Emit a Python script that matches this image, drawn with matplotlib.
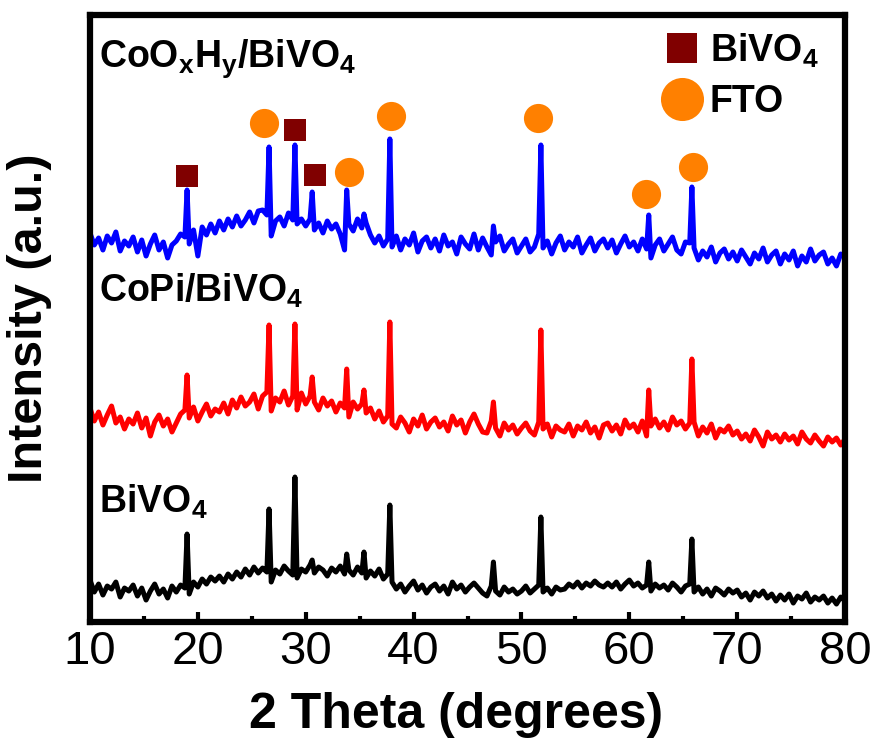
import numpy as np
import matplotlib
matplotlib.use('Agg')
import matplotlib.pyplot as plt
from matplotlib.lines import Line2D
from matplotlib.ticker import MultipleLocator

plt.rcParams['font.family'] = ['Liberation Sans', 'DejaVu Sans']
plt.rcParams['mathtext.fontset'] = 'custom'
plt.rcParams['mathtext.rm'] = 'Liberation Sans'
plt.rcParams['mathtext.bf'] = 'Liberation Sans:bold'
plt.rcParams['mathtext.default'] = 'bf'

# -------------------------------------------------
# data (intensity in arbitrary units, curves already offset)
# -------------------------------------------------
two_theta = np.round(np.arange(10.0, 80.01, 0.4), 1)

blue_base = [
    389, 377, 384, 372, 386, 379, 390, 371, 381, 376,
    385, 370, 382, 366, 378, 387, 372, 380, 364, 377,
    381, 388, 385, 378, 392, 366, 395, 387, 398, 389,
    401, 392, 403, 395, 406, 396, 402, 410, 399, 411,
    412, 407, 386, 401, 405, 396, 409, 402, 398, 403,
    396, 403, 392, 399, 389, 401, 393, 398, 388, 372,
    398, 391, 403, 394, 399, 387, 379, 386, 376, 383,
    375, 386, 372, 383, 377, 389, 370, 381, 385, 374,
    383, 371, 387, 376, 380, 368, 385, 378, 373, 388,
    372, 384, 375, 367, 380, 386, 371, 378, 383, 369,
    376, 383, 370, 375, 388, 374, 381, 368, 379, 386,
    372, 380, 375, 385, 369, 377, 384, 371, 379, 383,
    374, 382, 369, 378, 386, 375, 380, 371, 383, 373,
    364, 377, 383, 371, 378, 385, 372, 368, 380, 379,
    374, 362, 371, 365, 375, 360, 369, 373, 363, 370,
    361, 372, 365, 358, 369, 363, 374, 360, 367, 371,
    358, 368, 362, 371, 356, 366, 360, 373, 361, 367,
    370, 358, 364, 356, 368, 365,
]

red_base = [
    214, 201, 210, 197, 207, 216, 199, 205, 193, 203,
    198, 209, 194, 204, 186, 200, 207, 196, 203, 190,
    199, 208, 212, 204, 215, 201, 210, 218, 206, 213,
    210, 219, 208, 222, 214, 225, 216, 220, 228, 213,
    226, 230, 211, 224, 220, 231, 217, 226, 212, 229,
    218, 226, 220, 212, 224, 216, 221, 210, 219, 214,
    205, 220, 213, 218, 209, 214, 203, 211, 200, 206,
    198, 194, 205, 199, 190, 203, 196, 207, 193, 200,
    204, 195, 200, 191, 206, 197, 202, 189, 200, 208,
    198, 190, 189, 201, 194, 186, 199, 192, 197, 188,
    194, 199, 191, 187, 200, 193, 198, 185, 196, 192,
    190, 198, 186, 196, 192, 200, 189, 195, 184, 197,
    199, 191, 197, 188, 202, 194, 198, 190, 201, 186,
    196, 203, 194, 200, 192, 205, 197, 201, 193, 199,
    200, 186, 195, 189, 198, 184, 193, 190, 196, 187,
    191, 183, 188, 181, 192, 185, 176, 190, 183, 187,
    180, 188, 182, 186, 178, 190, 183, 179, 187, 181,
    176, 185, 180, 184, 177, 183,
]

black_base = [
    42, 30, 38, 27, 36, 33, 40, 25, 34, 31,
    37, 26, 34, 22, 31, 38, 28, 33, 24, 36,
    30, 37, 34, 28, 40, 35, 43, 38, 45, 41,
    46, 40, 48, 43, 50, 45, 53, 47, 55, 49,
    54, 50, 40, 52, 48, 56, 51, 47, 44, 53,
    50, 57, 49, 55, 52, 46, 54, 50, 56, 48,
    52, 47, 55, 49, 44, 51, 46, 53, 43, 48,
    40, 33, 38, 30, 36, 41, 32, 37, 29, 35,
    38, 31, 36, 28, 40, 33, 37, 30, 35, 39,
    34, 29, 26, 36, 31, 27, 35, 30, 33, 28,
    31, 36, 29, 33, 37, 30, 34, 28, 35, 32,
    33, 38, 35, 40, 34, 39, 36, 41, 37, 35,
    39, 35, 40, 33, 38, 42, 36, 39, 34, 37,
    31, 38, 34, 37, 32, 39, 35, 30, 36, 38,
    30, 35, 28, 33, 26, 34, 31, 27, 33, 29,
    32, 25, 29, 22, 30, 26, 31, 24, 28, 21,
    27, 22, 28, 19, 26, 23, 29, 20, 25, 22,
    26, 19, 24, 18, 25, 21,
]

# diffraction peak positions and peak-top intensities
peak_pos = [19.0, 26.6, 29.0, 30.6, 33.8, 35.4, 37.8, 47.4, 51.8, 61.8, 65.8]
blue_peaks = [432, 475, 477, 430, 432, 408, 483, 396, 477, 407, 435]
red_peaks = [247, 297, 298, 245, 253, 232, 300, 220, 292, 232, 263]
black_peaks = [88, 113, 145, 62, 68, 70, 117, 60, 105, 60, 83]

# phase markers above the top pattern
bivo4_x = [18.95, 29.03, 30.9]
bivo4_y = [446, 492, 447]
fto_x = [26.16, 34.05, 37.87, 51.54, 61.59, 65.9]
fto_y = [499, 450, 506, 504, 428, 455]

labels = ['CoO$_x$H$_y$/BiVO$_4$', 'CoPi/BiVO$_4$', 'BiVO$_4$']
label_y = [555, 320, 109]


def merge(base, peaks):
    x = np.concatenate([two_theta, peak_pos])
    y = np.concatenate([base, peaks])
    order = np.argsort(x)
    return x[order], y[order]


# -------------------------------------------------
# plot
# -------------------------------------------------
fig = plt.figure(figsize=(8.77, 7.48), dpi=100)
ax = fig.add_axes([0.1026, 0.1684, 0.861, 0.8116])

for base, peaks, col in [(black_base, black_peaks, 'black'),
                         (red_base, red_peaks, '#ff0000'),
                         (blue_base, blue_peaks, '#0000ff')]:
    x, y = merge(base, peaks)
    ax.plot(x, y, color=col, lw=3.6, solid_joinstyle='round')

ax.plot(bivo4_x, bivo4_y, 's', color='#800000', ms=16.5, mew=0)
ax.plot(fto_x, fto_y, 'o', color='#ff8000', ms=21, mew=0)

for txt, yy in zip(labels, label_y):
    ax.text(10.8, yy, txt, fontsize=27, fontweight='bold', va='baseline')

handles = [Line2D([], [], marker='s', color='#800000', ls='none', ms=22, mew=0),
           Line2D([], [], marker='o', color='#ff8000', ls='none', ms=31, mew=0)]
ax.legend(handles, ['BiVO$_4$', 'FTO'], loc='upper left', bbox_to_anchor=(0.759, 0.973),
          frameon=False, prop={'size': 27, 'weight': 'bold'}, handlelength=1.0,
          handletextpad=0.25, borderpad=0, borderaxespad=0, labelspacing=0.38)

ax.set_xlim(10, 80)
ax.set_ylim(0, 607)
ax.set_yticks([])
ax.xaxis.set_major_locator(MultipleLocator(10))
ax.xaxis.set_minor_locator(MultipleLocator(5))
ax.tick_params(axis='x', which='major', direction='in', length=7, width=3,
               labelsize=34, pad=6)
ax.tick_params(axis='x', which='minor', direction='in', length=4, width=3)
for sp in ax.spines.values():
    sp.set_linewidth(4.5)

ax.set_xlabel('2 Theta (degrees)', fontsize=36, fontweight='bold')
ax.xaxis.set_label_coords(0.485, -0.115)
ax.xaxis.label.set_va('top')
ax.set_ylabel('Intensity (a.u.)', fontsize=35, fontweight='bold')
ax.yaxis.set_label_coords(-0.05, 0.5)

fig.savefig('out.png', dpi=100)
